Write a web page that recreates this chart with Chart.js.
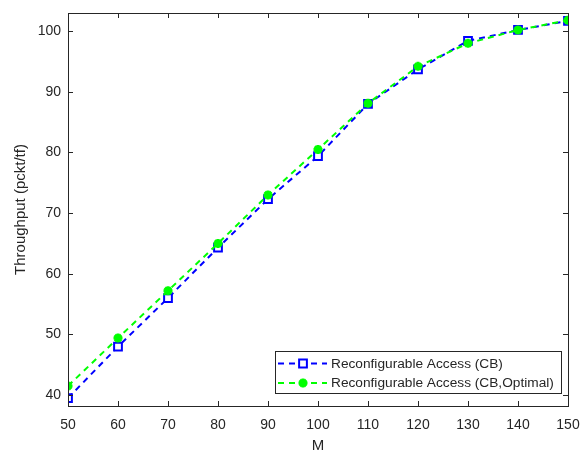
<!DOCTYPE html>
<html>
<head>
<meta charset="utf-8">
<script src="https://cdn.jsdelivr.net/npm/chart.js@4.4.1/dist/chart.umd.min.js"></script>
<style>
  html, body { margin: 0; padding: 0; background: #fff; }
  #wrap { width: 581px; height: 452px; position: relative; }
</style>
</head>
<body>
<div id="wrap"><canvas id="chart"></canvas></div>
<script>
// data
const mValues = [50, 60, 70, 80, 90, 100, 110, 120, 130, 140, 150];
const cbThroughput = [39.5, 48.0, 56.0, 64.3, 72.3, 79.4, 88.0, 93.7, 98.4, 100.2, 101.7];
const cbOptimalThroughput = [41.5, 49.4, 57.2, 65.0, 73.0, 80.5, 88.1, 94.2, 98.0, 100.2, 101.8];
const xTicks = [50, 60, 70, 80, 90, 100, 110, 120, 130, 140, 150];
const yTicks = [40, 50, 60, 70, 80, 90, 100];
const seriesNames = ['Reconfigurable Access (CB)', 'Reconfigurable Access (CB,Optimal)'];

const AXIS_COLOR = '#262626';
const FONT = "'Liberation Sans', Arial, sans-serif";

Chart.defaults.font.family = FONT;
Chart.defaults.color = AXIS_COLOR;

// frame box + inward tick marks on all four sides (matlab style)
const boxPlugin = {
  id: 'box',
  afterDraw(chart) {
    const { ctx, chartArea: a, scales } = chart;
    ctx.save();
    ctx.strokeStyle = AXIS_COLOR;
    ctx.lineWidth = 1;
    ctx.strokeRect(Math.round(a.left) + 0.5, Math.round(a.top) + 0.5,
      Math.round(a.right - a.left), Math.round(a.bottom - a.top));
    ctx.beginPath();
    const tl = 5;
    xTicks.forEach(v => {
      const x = Math.round(scales.x.getPixelForValue(v)) + 0.5;
      ctx.moveTo(x, a.bottom); ctx.lineTo(x, a.bottom - tl);
      ctx.moveTo(x, a.top); ctx.lineTo(x, a.top + tl);
    });
    yTicks.forEach(v => {
      const y = Math.round(scales.y.getPixelForValue(v)) + 0.5;
      ctx.moveTo(a.left, y); ctx.lineTo(a.left + tl, y);
      ctx.moveTo(a.right, y); ctx.lineTo(a.right - tl, y);
    });
    ctx.stroke();
    ctx.restore();
  }
};

// legend drawn inside the axes, lower right
const insideLegend = {
  id: 'insideLegend',
  afterDraw(chart) {
    const { ctx, chartArea: a } = chart;
    const boxW = 286, boxH = 42;
    const bx = Math.round(a.right) - 7 - boxW, by = Math.round(a.bottom) - 13 - boxH;
    ctx.save();
    ctx.fillStyle = '#fff';
    ctx.fillRect(bx, by, boxW, boxH);
    ctx.strokeStyle = AXIS_COLOR;
    ctx.lineWidth = 1;
    ctx.strokeRect(bx + 0.5, by + 0.5, boxW, boxH);
    ctx.font = '13.7px ' + FONT;
    ctx.textBaseline = 'middle';
    chart.data.datasets.slice().sort((p, q) => p.legendIndex - q.legendIndex).forEach((ds, i) => {
      const y = by + 12.5 + i * 19.5;
      ctx.strokeStyle = ds.borderColor;
      ctx.lineWidth = 2;
      ctx.setLineDash([6, 5]);
      ctx.beginPath();
      ctx.moveTo(bx + 3, y);
      ctx.lineTo(bx + 52, y);
      ctx.stroke();
      ctx.setLineDash([]);
      ctx.fillStyle = ds.pointBackgroundColor;
      ctx.strokeStyle = ds.borderColor;
      ctx.lineWidth = ds.pointBorderWidth;
      Chart.helpers.drawPoint(ctx, {
        pointStyle: ds.pointStyle,
        radius: ds.pointRadius,
        borderWidth: ds.pointBorderWidth,
        rotation: 0
      }, bx + 28, y);
      ctx.fillStyle = AXIS_COLOR;
      ctx.fillText(ds.label, bx + 56, y + 0.5);
    });
    ctx.restore();
  }
};

new Chart(document.getElementById('chart'), {
  type: 'line',
  data: {
    datasets: [
      {
        label: seriesNames[0],
        legendIndex: 0,
        order: 1,
        data: mValues.map((m, i) => ({ x: m, y: cbThroughput[i] })),
        borderColor: '#0000ff',
        borderWidth: 2,
        borderDash: [6, 5],
        pointStyle: 'rect',
        pointRadius: 5.5,
        pointBorderWidth: 2,
        pointBackgroundColor: '#ffffff',
        pointBorderColor: '#0000ff',
        tension: 0
      },
      {
        label: seriesNames[1],
        legendIndex: 1,
        order: 0,
        data: mValues.map((m, i) => ({ x: m, y: cbOptimalThroughput[i] })),
        borderColor: '#00ff00',
        borderWidth: 2,
        borderDash: [6, 5],
        pointStyle: 'star',
        pointRadius: 4.5,
        pointBorderWidth: 3,
        pointBackgroundColor: '#00ff00',
        pointBorderColor: '#00ff00',
        tension: 0
      }
    ]
  },
  options: {
    responsive: true,
    maintainAspectRatio: false,
    animation: false,
    layout: { padding: { top: 13, right: 13, left: 0, bottom: 0 } },
    plugins: {
      legend: { display: false },
      tooltip: { enabled: false }
    },
    scales: {
      x: {
        type: 'linear',
        min: 50,
        max: 150,
        afterBuildTicks: s => { s.ticks = xTicks.map(v => ({ value: v })); },
        afterFit: s => { s.height = 46; s.paddingLeft = 0; s.paddingRight = 0; },
        grid: { display: false, drawTicks: false },
        border: { display: false },
        ticks: { font: { size: 14 }, color: AXIS_COLOR, padding: 11, maxRotation: 0 },
        title: { display: true, text: 'M', font: { size: 15 }, color: AXIS_COLOR, padding: { top: 0, bottom: -3 } }
      },
      y: {
        type: 'linear',
        min: 38.2,
        max: 103,
        afterBuildTicks: s => { s.ticks = yTicks.map(v => ({ value: v })); },
        afterFit: s => { s.width = 68; s.paddingTop = 0; s.paddingBottom = 0; },
        grid: { display: false, drawTicks: false },
        border: { display: false },
        ticks: { font: { size: 14 }, color: AXIS_COLOR, padding: 7 },
        title: { display: true, text: 'Throughput (pckt/tf)', font: { size: 15 }, color: AXIS_COLOR, padding: { top: 12, bottom: 0 } }
      }
    }
  },
  plugins: [boxPlugin, insideLegend]
});
</script>
</body>
</html>
